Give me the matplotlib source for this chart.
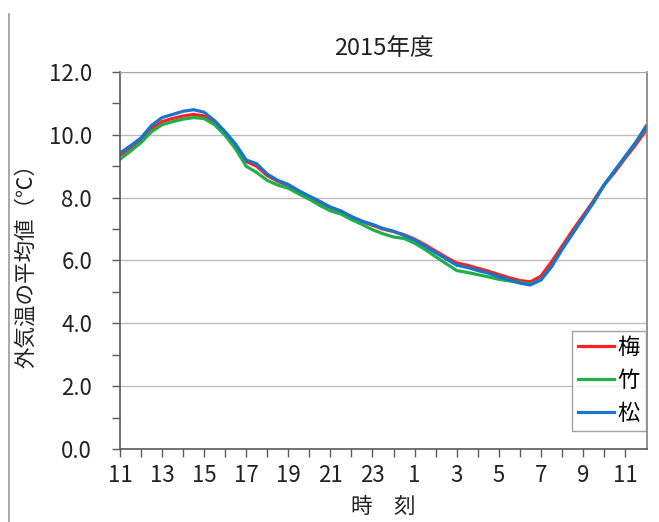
import numpy as np
import matplotlib
matplotlib.use("Agg")
import matplotlib.pyplot as plt
from matplotlib.lines import Line2D
from matplotlib.ticker import MultipleLocator, FormatStrFormatter

plt.rcParams['font.family'] = ['Noto Sans CJK JP', 'DejaVu Sans']

# Half-hourly averages of outdoor temperature, 11:00 through 12:00 next day
hours = np.arange(0, 25.01, 0.5)

ume = [9.35, 9.58, 9.85, 10.2, 10.42, 10.52, 10.6, 10.65, 10.6, 10.4,
       10.05, 9.65, 9.15, 9.0, 8.7, 8.52, 8.38, 8.18, 8.02, 7.85,
       7.68, 7.55, 7.38, 7.25, 7.12, 7.0, 6.92, 6.82, 6.68, 6.5,
       6.3, 6.1, 5.92, 5.85, 5.75, 5.66, 5.55, 5.45, 5.36, 5.32,
       5.5, 5.95, 6.45, 6.95, 7.42, 7.9, 8.4, 8.8, 9.25, 9.68, 10.15]

take = [9.22, 9.48, 9.75, 10.1, 10.32, 10.42, 10.5, 10.55, 10.52, 10.32,
        9.98, 9.55, 9.0, 8.8, 8.55, 8.4, 8.3, 8.12, 7.95, 7.75,
        7.58, 7.48, 7.3, 7.15, 6.98, 6.85, 6.75, 6.7, 6.55, 6.35,
        6.12, 5.9, 5.68, 5.62, 5.55, 5.48, 5.4, 5.35, 5.3, 5.25,
        5.38, 5.8, 6.35, 6.85, 7.35, 7.85, 8.4, 8.85, 9.3, 9.75, 10.25]

matsu = [9.42, 9.65, 9.9, 10.3, 10.55, 10.65, 10.75, 10.8, 10.72, 10.45,
         10.1, 9.7, 9.2, 9.08, 8.75, 8.55, 8.42, 8.22, 8.05, 7.88,
         7.7, 7.58, 7.4, 7.25, 7.15, 7.02, 6.93, 6.8, 6.65, 6.45,
         6.25, 6.05, 5.85, 5.78, 5.68, 5.6, 5.48, 5.38, 5.28, 5.22,
         5.38, 5.8, 6.35, 6.85, 7.35, 7.85, 8.4, 8.85, 9.3, 9.75, 10.28]

series_names = ['梅', '竹', '松']
series_colors = ['#FF1F1F', '#1FB04A', '#1874CD']

tick_hours = np.arange(0, 25, 2)
tick_labels = ['11', '13', '15', '17', '19', '21', '23', '1', '3', '5', '7', '9', '11']

fig = plt.figure(figsize=(6.59, 5.22), dpi=100)
ax = fig.add_axes([0.182, 0.140, 0.800, 0.722])

for vals, name, col in zip([ume, take, matsu], series_names, series_colors):
    ax.plot(hours, vals, color=col, lw=2.3, label=name, solid_joinstyle='round')

ax.set_xlim(0, 25.05)
ax.set_ylim(0, 12)

ax.yaxis.set_major_locator(MultipleLocator(2))
ax.yaxis.set_minor_locator(MultipleLocator(1))
ax.yaxis.set_major_formatter(FormatStrFormatter('%.1f'))
ax.set_xticks(tick_hours)
ax.set_xticklabels(tick_labels)
ax.set_xticks(np.arange(0, 25, 1), minor=True)

ax.grid(axis='y', which='major', color='#BDBDBD', lw=1.0)
ax.set_axisbelow(True)

for side in ['left', 'bottom']:
    ax.spines[side].set_color('#595959')
    ax.spines[side].set_linewidth(1.2)
ax.spines['top'].set_color('#A6A6A6')
ax.spines['right'].set_color('#7F7F7F')
ax.spines['right'].set_linewidth(1.2)

ax.tick_params(axis='both', which='both', color='#595959', width=1.0)
ax.tick_params(axis='y', which='major', length=6, pad=14, labelsize=16, labelcolor='#222222')
ax.tick_params(axis='y', which='minor', length=6)
ax.tick_params(axis='x', which='both', length=6, pad=5, labelsize=16, labelcolor='#222222')

ax.set_title('2015年度', fontsize=17, color='#222222', pad=12)
ax.set_xlabel('時　刻', fontsize=15.5, color='#222222')
ax.xaxis.set_label_coords(0.5, -0.154)
ax.xaxis.label.set_va('center')
ax.set_ylabel('外気温の平均値（℃）', fontsize=15.5, color='#222222')
ax.yaxis.set_label_coords(-0.178, 0.5)
ax.yaxis.label.set_va('center')

leg = ax.legend(loc='lower right', bbox_to_anchor=(0.997, 0.048), borderaxespad=0,
                fontsize=16, handlelength=1.65, handletextpad=0.15, borderpad=0.25,
                labelspacing=0.45, fancybox=False, frameon=True)
leg.get_frame().set_edgecolor('#8C8C8C')
leg.get_frame().set_linewidth(1.0)

# thin border down the left side of the picture
fig.add_artist(Line2D([9 / 659, 9 / 659], [0, 1 - 14 / 522], transform=fig.transFigure,
                      color='#9A9A9A', lw=1.2))

fig.savefig('out.png', dpi=100)
